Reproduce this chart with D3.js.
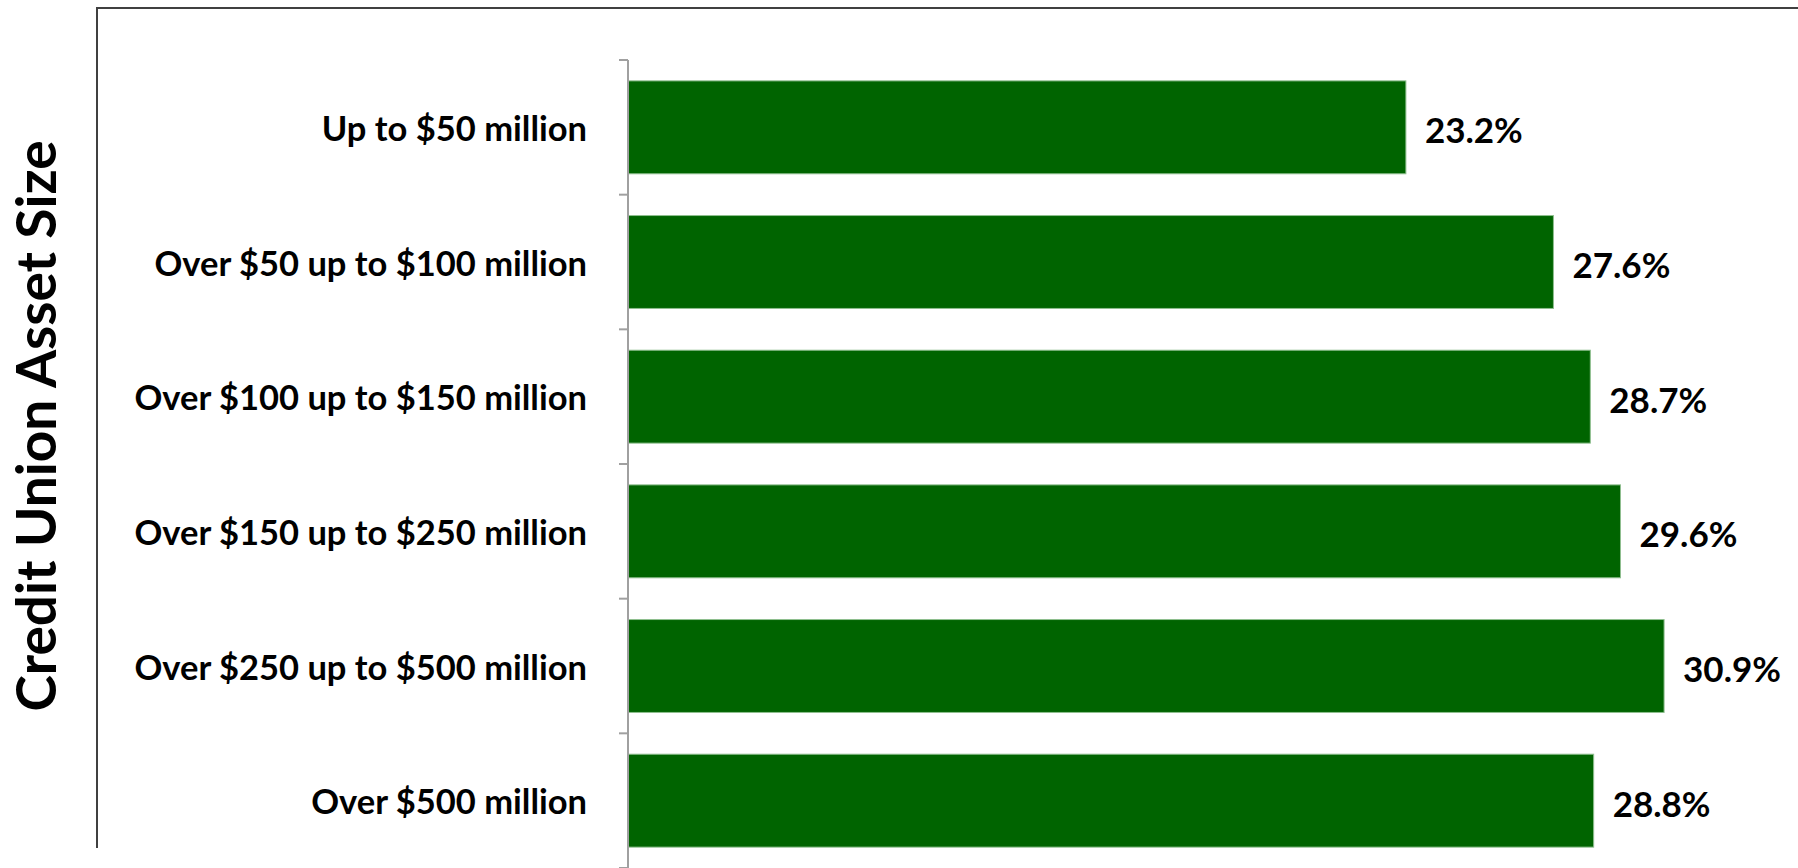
<!DOCTYPE html>
<html>
<head>
<meta charset="utf-8">
<script src="https://cdn.jsdelivr.net/npm/d3@7"></script>
<style>
  html, body { margin: 0; padding: 0; background: #fff; }
  svg { display: block; }
  text { font-family: Lato, "Open Sans", sans-serif; font-weight: bold; fill: #000; }
</style>
</head>
<body>
<svg id="chart" width="1798" height="868"></svg>
<script>
// Share of members by credit union asset size
const categories = [
  "Up to $50 million",
  "Over $50 up to $100 million",
  "Over $100 up to $150 million",
  "Over $150 up to $250 million",
  "Over $250 up to $500 million",
  "Over $500 million"
];
const values = [23.2, 27.6, 28.7, 29.6, 30.9, 28.8];
const axisTitle = "Credit Union Asset Size";

const W = 1798, H = 868;
const svg = d3.select("#chart");

// Outer frame (top and left edges visible)
svg.append("path")
  .attr("d", `M97,${H - 20} V8 H${W + 5}`)
  .attr("fill", "none")
  .attr("stroke", "#404040")
  .attr("stroke-width", 2);

const axisX = 628;
const plotTop = 60, plotBottom = 868;

const y = d3.scaleBand()
  .domain(categories)
  .range([plotTop, plotBottom])
  .paddingInner(0.31)
  .paddingOuter(0.155);

const x = d3.scaleLinear()
  .domain([0, 35])
  .range([axisX, axisX + 35 * 33.53]);

// Bars
svg.append("g").selectAll("rect")
  .data(categories)
  .join("rect")
  .attr("x", x(0))
  .attr("y", d => y(d))
  .attr("width", (d, i) => x(values[i]) - x(0))
  .attr("height", y.bandwidth())
  .attr("fill", "#006400")
  .attr("stroke", "#8fbf8f")
  .attr("stroke-width", 1);

// Category axis with tick marks at band boundaries
const step = y.step();
const boundaries = d3.range(categories.length + 1).map(i => plotTop + i * step);
const axisG = svg.append("g");
axisG.append("line")
  .attr("x1", axisX).attr("x2", axisX)
  .attr("y1", plotTop).attr("y2", plotBottom)
  .attr("stroke", "#a0a0a0").attr("stroke-width", 2);
axisG.selectAll("line.tick")
  .data(boundaries)
  .join("line")
  .attr("class", "tick")
  .attr("x1", axisX - 9).attr("x2", axisX)
  .attr("y1", d => d).attr("y2", d => d)
  .attr("stroke", "#a0a0a0").attr("stroke-width", 2);

// Category labels
svg.append("g").selectAll("text")
  .data(categories)
  .join("text")
  .attr("x", axisX - 41)
  .attr("y", d => y(d) + y.bandwidth() / 2)
  .attr("text-anchor", "end")
  .attr("dominant-baseline", "central")
  .attr("font-size", 34.5)
  .text(d => d);

// Value labels
svg.append("g").selectAll("text")
  .data(categories)
  .join("text")
  .attr("x", (d, i) => x(values[i]) + 19)
  .attr("y", d => y(d) + y.bandwidth() / 2 + 2)
  .attr("dominant-baseline", "central")
  .attr("font-size", 35)
  .text((d, i) => values[i].toFixed(1) + "%");

// Axis title
svg.append("text")
  .attr("transform", "translate(35,426) rotate(-90)")
  .attr("text-anchor", "middle")
  .attr("dominant-baseline", "central")
  .attr("font-size", 55)
  .text(axisTitle);
</script>
</body>
</html>
